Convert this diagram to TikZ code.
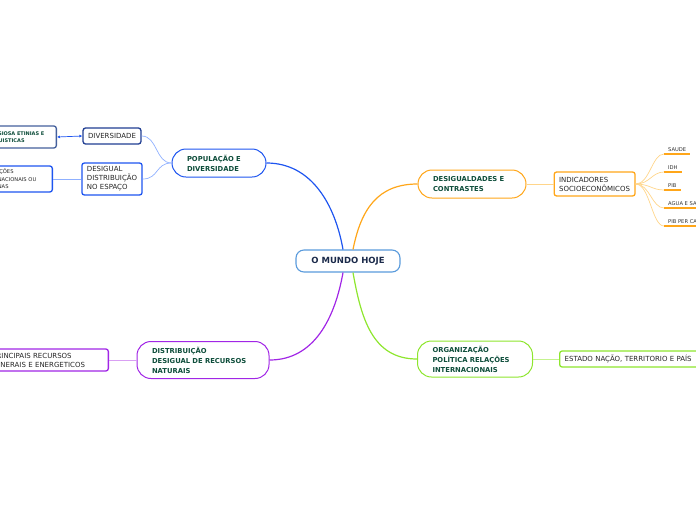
\documentclass[tikz,border=0pt]{standalone}
\usepackage{fontspec}
\setmainfont{DejaVu Sans}
\usetikzlibrary{arrows.meta,positioning}

\definecolor{rootblue}{HTML}{5A9BDC}
\definecolor{rootnavy}{HTML}{1B2A4A}
\definecolor{topicgreen}{HTML}{0D4D3A}
\definecolor{popblue}{HTML}{1E55F0}
\definecolor{popblueL}{HTML}{8FB0FF}
\definecolor{darkblue}{HTML}{203E92}
\definecolor{slate}{HTML}{44609C}
\definecolor{desorange}{HTML}{FFA619}
\definecolor{desorangeL}{HTML}{FFD58A}
\definecolor{orggreen}{HTML}{8EE62E}
\definecolor{orggreenL}{HTML}{C4F38E}
\definecolor{distpurple}{HTML}{A126E6}
\definecolor{distpurpleL}{HTML}{D9A0F3}

\begin{document}
\begin{tikzpicture}[
		x=1pt, y=-1pt,
		root/.style={draw=rootblue, line width=1.1pt, rounded corners=8pt, fill=white,
			minimum width=104pt, minimum height=22pt,
			font=\fontsize{8.5}{10}\selectfont\bfseries, text=rootnavy},
		topic/.style={draw, line width=1pt, rounded corners=14pt, fill=white, align=left,
			inner xsep=15pt, inner ysep=0pt,
			font=\fontsize{6.8}{10}\selectfont\bfseries, text=topicgreen},
		sub/.style={draw, line width=1.3pt, rounded corners=2.5pt, fill=white, align=left,
			inner xsep=5pt, inner ysep=0pt,
			font=\fontsize{7}{9}\selectfont, text=black!85},
		tiny/.style={sub, font=\fontsize{5}{7}\selectfont\bfseries, text=topicgreen},
		leaf/.style={anchor=south west, inner xsep=4pt, inner ysep=2pt,
			font=\fontsize{5.2}{6}\selectfont, text=black!80},
		leafline/.style={desorange, line width=1.4pt},
		link/.style={line width=1.2pt},
		sublink/.style={line width=0.7pt}
	]
	\clip (0,0) rectangle (696,520);

	% centro
	\node[root] (root) at (348,261) {O MUNDO HOJE};

	% temas
	\node[topic, draw=popblue, text width=64pt, minimum height=28pt] (pop) at (219,163)
	{POPULAÇÃO E\\DIVERSIDADE};
	\node[topic, draw=desorange, text width=78pt, minimum height=28pt] (desig) at (472,184)
	{DESIGUALDADES E\\CONTRASTES};
	\node[topic, draw=orggreen, text width=85pt, minimum height=36pt] (org) at (475,359)
	{ORGANIZAÇÃO\\POLÍTICA RELAÇÕES\\INTERNACIONAIS};
	\node[topic, draw=distpurple, text width=102pt, minimum height=37pt] (dist) at (203,360)
	{DISTRIBUIÇÃO\\DESIGUAL DE RECURSOS\\NATURAIS};

	\draw[link, popblue] ([xshift=-5pt]root.north) .. controls +(-8,-45) and +(45,0) .. (pop.east);
	\draw[link, desorange] ([xshift=5pt]root.north) .. controls +(8,-40) and +(-40,0) .. (desig.west);
	\draw[link, distpurple] ([xshift=-5pt]root.south) .. controls +(-8,45) and +(45,0) .. (dist.east);
	\draw[link, orggreen] ([xshift=5pt]root.south) .. controls +(8,45) and +(-45,0) .. (org.west);

	% populacao
	\node[sub, draw=darkblue, minimum height=16pt] (divers) at (112,136) {DIVERSIDADE};
	\node[sub, draw=popblue, minimum height=32pt] (espaco) at (112,179)
	{DESIGUAL\\DISTRIBUIÇÃO\\NO ESPAÇO};
	\node[tiny, draw=slate, minimum height=22pt, text width=66pt, anchor=east] (relig) at (57,137)
	{RELIGIOSA ETINIAS E\\LINGUISTICAS};
	\node[sub, draw=popblue, minimum height=26pt, text width=65pt, font=\fontsize{5.2}{7.5}\selectfont, anchor=east] (migr) at (53,179)
	{MIGRAÇÕES\\INTERNACIONAIS OU\\INTERNAS};

	\draw[sublink, popblueL] (pop.west) .. controls +(-16,0) and +(16,0) .. (divers.east);
	\draw[sublink, popblueL] (pop.west) .. controls +(-16,0) and +(16,0) .. (espaco.east);
	\draw[sublink, popblue, {Latex[length=3pt,width=3pt]}-{Latex[length=3pt,width=3pt]}] (divers.west) -- (relig.east);
	\draw[sublink, popblueL] (espaco.west) -- (migr.east);

	% desigualdades
	\node[sub, draw=desorange, minimum height=24pt, right=27pt of desig] (indic)
	{INDICADORES\\SOCIOECONÔMICOS};
	\draw[sublink, desorangeL] (desig.east) -- (indic.west);

	\foreach \name/\txt/\y in {saude/SAUDE/154, idh/IDH/172, pib/PIB/190,
			agua/AGUA E SANEAMENTO/208, percap/PIB PER CAPITA/226} {
		\node[leaf] (\name) at (664,\y) {\txt};
		\draw[leafline] (\name.south west) -- (\name.south east);
		\draw[sublink, desorangeL] (indic.east) .. controls +(14,0) and +(-12,0) .. (\name.south west);
	}

	% organizacao
	\node[sub, draw=orggreen, minimum height=16pt, text width=140pt, anchor=west] (estado) at (559,359)
	{ESTADO NAÇÃO, TERRITORIO E PAÍS};
	\draw[sublink, orggreenL] (org.east) -- (estado.west);

	% recursos
	\node[sub, draw=distpurple, minimum height=22pt, text width=111pt, anchor=east] (recur) at (109,360)
	{PRINCIPAIS RECURSOS\\MINERAIS E ENERGETICOS};
	\draw[sublink, distpurpleL] (dist.west) -- (recur.east);
\end{tikzpicture}
\end{document}
